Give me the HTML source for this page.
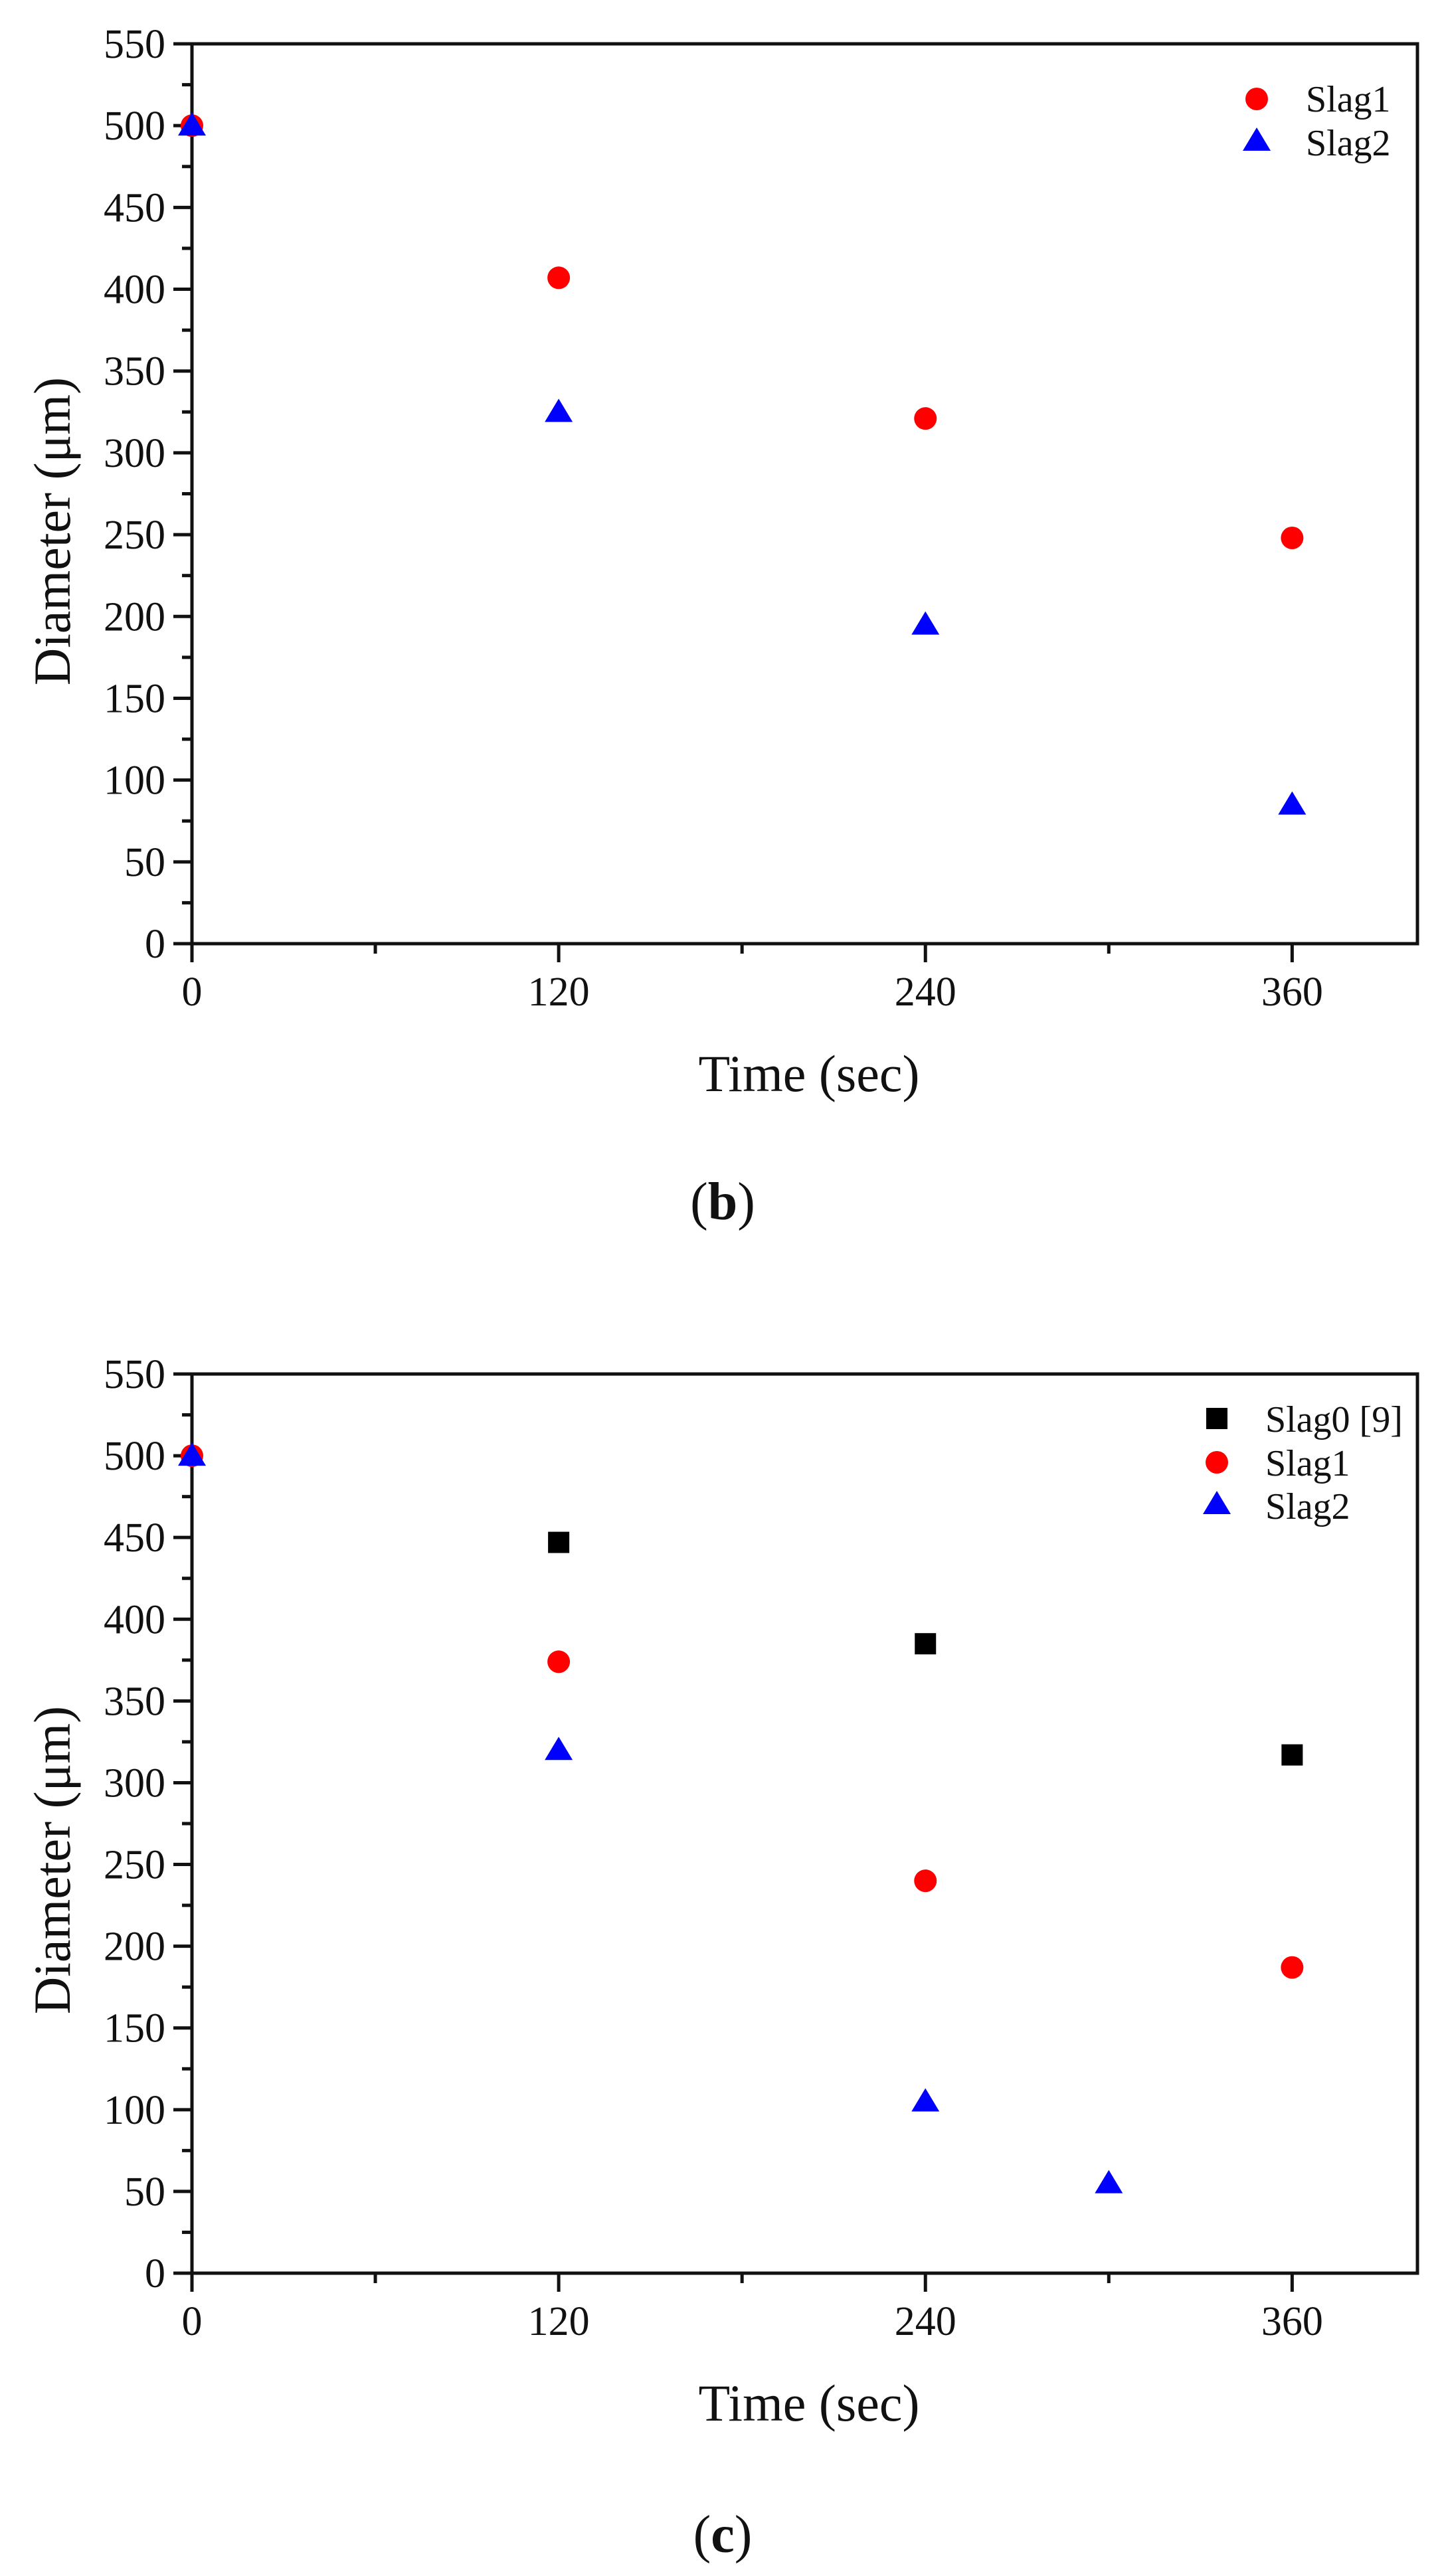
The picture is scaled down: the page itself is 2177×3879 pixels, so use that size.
<!DOCTYPE html>
<html><head><meta charset="utf-8"><style>
html,body{margin:0;padding:0;background:#fff;}
svg{display:block;}
text{font-family:"Liberation Serif","DejaVu Serif",serif;fill:#111;}
</style></head>
<body>
<svg id="fig" width="2177" height="3879" viewBox="0 0 2177 3879" xmlns="http://www.w3.org/2000/svg" font-family="Liberation Serif, serif">
</svg>
<script>
// Shared axis data
const xTicks = [0, 120, 240, 360];
const xMinor = [60, 180, 300];
const yTicks = [0, 50, 100, 150, 200, 250, 300, 350, 400, 450, 500, 550];
// Panel (b)
const bX = [0, 120, 240, 360];
const bSlag1 = [500, 407, 321, 248];
const bSlag2 = [500, 325, 195, 85];
// Panel (c)
const cSlag0X = [120, 240, 360];
const cSlag0 = [447, 385, 317];
const cSlag1X = [0, 120, 240, 360];
const cSlag1 = [500, 374, 240, 187];
const cSlag2X = [0, 120, 240, 300];
const cSlag2 = [500, 320, 105, 55];

const NS = "http://www.w3.org/2000/svg";
const svg = document.getElementById('fig');
function mk(tag, attrs, parent){
  const e = document.createElementNS(NS, tag);
  for (const k in attrs) e.setAttribute(k, attrs[k]);
  if (tag === 'text') e.setAttribute('font-family', 'Liberation Serif, serif');
  (parent||svg).appendChild(e);
  return e;
}

function panel(cfg){
  const g = mk('g', {});
  
  
  const L = 289, R = 2134, T = cfg.top, B = cfg.bottom;
  const xs = v => L + v / 401 * (R - L);
  const ys = v => B - v / 550 * (B - T);
  const frame = mk('rect', {x:L, y:T, width:R-L, height:B-T, fill:'none', stroke:'#111', 'stroke-width':5}, g);
  
  
  yTicks.forEach(v => {
    const y = ys(v);
    const t = mk('line', {x1:L-28, x2:L, y1:y, y2:y, stroke:'#111', 'stroke-width':5}, g);
    
    
    const lb = mk('text', {x:L-40, y:y+21, 'font-size':62, 'text-anchor':'end'}, g);
    lb.textContent = v;
    
    
    if (v < 550) {
      const ym = ys(v + 25);
      const m = mk('line', {x1:L-15, x2:L, y1:ym, y2:ym, stroke:'#111', 'stroke-width':5}, g);
      
      
    }
  });
  xTicks.forEach(v => {
    const x = xs(v);
    const t = mk('line', {x1:x, x2:x, y1:B, y2:B+28, stroke:'#111', 'stroke-width':5}, g);
    
    
    const lb = mk('text', {x:x, y:B+93, 'font-size':62, 'text-anchor':'middle'}, g);
    lb.textContent = v;
    
    
  });
  xMinor.forEach(v => {
    const x = xs(v);
    const t = mk('line', {x1:x, x2:x, y1:B, y2:B+15, stroke:'#111', 'stroke-width':5}, g);
    
    
  });
  const xt = mk('text', {x:1218, y:B+222, 'font-size':78, 'text-anchor':'middle'}, g);
  xt.textContent = 'Time (sec)';
  
  
  const ycy = cfg.ylabY;
  const yt = mk('text', {x:0, y:0, 'font-size':78, 'text-anchor':'middle', transform:`translate(105 ${ycy}) rotate(-90)`}, g);
  yt.textContent = 'Diameter (\u03bcm)';
  
  
  const cap = mk('text', {x:1088, y:cfg.capY, 'font-size':80, 'text-anchor':'middle'}, g);
  cap.innerHTML = '(<tspan font-weight="bold">' + cfg.cap + '</tspan>)';
  
  
  return {g, xs, ys};
}

function square(g, x, y){ return mk('rect', {x:x-16, y:y-16, width:32, height:32, fill:'#000'}, g); }
function circle(g, x, y){ return mk('circle', {cx:x, cy:y, r:17, fill:'#ff0000'}, g); }
function tri(g, x, y){ return mk('polygon', {points:`${x},${y-20} ${x+21},${y+15} ${x-21},${y+15}`, fill:'#0000ff'}, g); }

const pb = panel({name:'chart-b', top:66, bottom:1421, cap:'b', capY:1836, ylabY:800});
bX.forEach((t, i) => {
  const c = circle(pb.g, pb.xs(t), pb.ys(bSlag1[i]));
  
  
});
bX.forEach((t, i) => {
  const c = tri(pb.g, pb.xs(t), pb.ys(bSlag2[i]));
  
  
});
{
  const lg = mk('g', {}, pb.g);
  
  
  circle(lg, 1892, 149);
  const t1 = mk('text', {x:1966, y:168, 'font-size':56}, lg); t1.textContent = 'Slag1';
  
  
  tri(lg, 1892, 212);
  const t2 = mk('text', {x:1966, y:234, 'font-size':56}, lg); t2.textContent = 'Slag2';
  
  
}

const pc = panel({name:'chart-c', top:2069, bottom:3423, cap:'c', capY:3843, ylabY:2801});
cSlag0X.forEach((t, i) => {
  const c = square(pc.g, pc.xs(t), pc.ys(cSlag0[i]));
  
  
});
cSlag1X.forEach((t, i) => {
  const c = circle(pc.g, pc.xs(t), pc.ys(cSlag1[i]));
  
  
});
cSlag2X.forEach((t, i) => {
  const c = tri(pc.g, pc.xs(t), pc.ys(cSlag2[i]));
  
  
});
{
  const lg = mk('g', {}, pc.g);
  
  
  square(lg, 1832, 2136);
  const t0 = mk('text', {x:1905, y:2156, 'font-size':56}, lg); t0.textContent = 'Slag0 [9]';
  
  
  circle(lg, 1832, 2202);
  const t1 = mk('text', {x:1905, y:2222, 'font-size':56}, lg); t1.textContent = 'Slag1';
  
  
  tri(lg, 1832, 2265);
  const t2 = mk('text', {x:1905, y:2287, 'font-size':56}, lg); t2.textContent = 'Slag2';
  
  
}
</script>
</body></html>
